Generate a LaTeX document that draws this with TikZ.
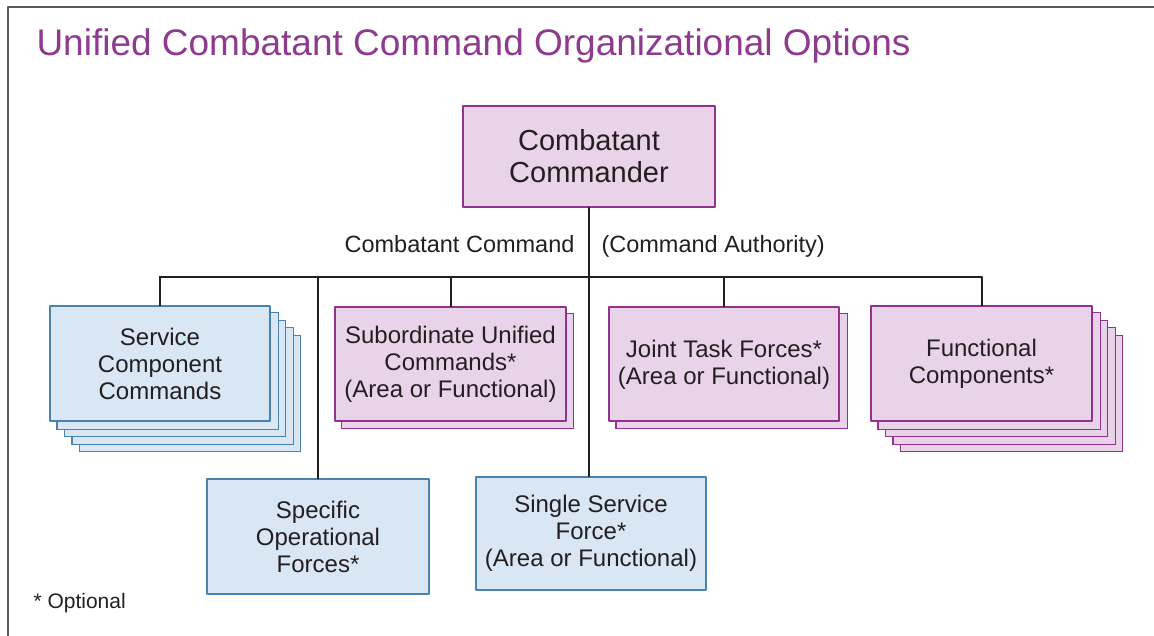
\documentclass[tikz,border=0pt]{standalone}
\usepackage{fontspec}
\setmainfont{Liberation Sans}
\usetikzlibrary{backgrounds}
\definecolor{inkGray}{HTML}{231F20}
\definecolor{titlePurple}{HTML}{8E3A8E}
\definecolor{boxPurple}{HTML}{E8D3E8}
\definecolor{edgePurple}{HTML}{93328E}
\definecolor{boxBlue}{HTML}{D9E6F3}
\definecolor{edgeBlue}{HTML}{4A83B0}
\def\stackStep{7.5}

\begin{document}
\begin{tikzpicture}[x=1pt, y=-1pt, line cap=round, line join=round,
	unitbox/.style={draw, line width=1.1pt, inner sep=0pt, align=center, text=inkGray, font=\fontsize{24}{27}\selectfont},
	purplebox/.style={unitbox, fill=boxPurple, draw=edgePurple},
	bluebox/.style={unitbox, fill=boxBlue, draw=edgeBlue},
	link/.style={draw=inkGray, line width=2pt}]
	\useasboundingbox (0,0) rectangle (1154,636);
	% frame
	\draw[draw=gray!70!black, line width=1.6pt, line cap=butt] (8,636) -- (8,7) -- (1154,7);
	\node[anchor=base west, text=titlePurple, font=\fontsize{37}{40}\selectfont] (title) at (33,56) {Unified Combatant Command Organizational Options};

	\node[purplebox, minimum width=252pt, minimum height=101pt, font=\fontsize{29}{32}\selectfont] (cc) at (589,156.5) {Combatant\\Commander};

	\node[bluebox, minimum width=220pt, minimum height=115pt] (svc) at (160,363.5) {Service\\Component\\Commands};
	\node[purplebox, minimum width=231pt, minimum height=114pt] (sub) at (450.5,364) {Subordinate Unified\\Commands*\\(Area or Functional)};
	\node[purplebox, minimum width=230pt, minimum height=114pt, text depth=4pt] (jtf) at (724,364) {Joint Task Forces*\\(Area or Functional)};
	\node[purplebox, minimum width=221pt, minimum height=115pt, text depth=4pt] (func) at (981.5,363.5) {Functional\\Components*};
	\node[bluebox, minimum width=222pt, minimum height=115pt] (spec) at (318,536.5) {Specific\\Operational\\Forces*};
	\node[bluebox, minimum width=230pt, minimum height=113pt] (ssf) at (591,533.5) {Single Service\\Force*\\(Area or Functional)};

	% stacked copies behind the front boxes
	\begin{scope}[on background layer]
		\foreach \i in {4,...,1} {
			\pgfmathsetmacro{\stackOff}{\i * \stackStep}
			\draw[bluebox] ([shift={(\stackOff,\stackOff)}]svc.south west) rectangle ([shift={(\stackOff,\stackOff)}]svc.north east);
			\draw[purplebox] ([shift={(\stackOff,\stackOff)}]func.south west) rectangle ([shift={(\stackOff,\stackOff)}]func.north east);
		}
		\draw[purplebox] ([shift={(7,7)}]sub.south west) rectangle ([shift={(7,7)}]sub.north east);
		\draw[purplebox] ([shift={(7.5,7)}]jtf.south west) rectangle ([shift={(7.5,7)}]jtf.north east);
	\end{scope}

	% connectors
	\coordinate (bus) at (0,277);
	\draw[link] (cc.south) -- (cc.south |- ssf.north);
	\draw[link] (svc.north |- bus) -- (func.north |- bus);
	\foreach \unit in {svc, spec, sub, jtf, func} {
		\draw[link] (\unit.north |- bus) -- (\unit.north);
	}

	\node[anchor=base east, text=inkGray, font=\fontsize{23.5}{27}\selectfont] (authL) at (578,253) {Combatant Command};
	\node[anchor=base west, text=inkGray, font=\fontsize{23.5}{27}\selectfont] (authR) at (598,253) {(Command Authority)};
	\node[anchor=base west, text=inkGray, font=\fontsize{21}{24}\selectfont] (note) at (30,608) {* Optional};
\end{tikzpicture}
\end{document}
